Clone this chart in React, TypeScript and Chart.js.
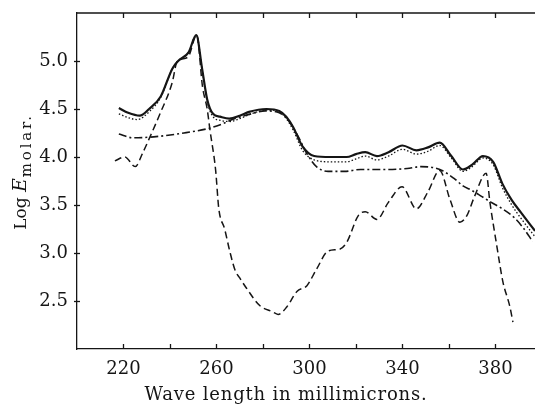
import React, { useEffect, useRef } from "react";
import { Chart, registerables } from "chart.js";

Chart.register(...registerables);

const xTickLabels = [220, 260, 300, 340, 380];
const yTickLabels = [2.5, 3.0, 3.5, 4.0, 4.5, 5.0];

const solidX = [218, 222, 227, 231, 236, 241, 243.5, 248, 251.3, 253.8, 256, 258.5, 261.5, 265.5, 270, 274, 281.5, 287, 290, 293, 297, 302, 309, 316, 320, 324, 329, 334, 340, 346, 351, 356, 361, 366, 370, 374.6, 379, 383, 387, 391, 397];
const solidY = [4.51, 4.46, 4.43, 4.5, 4.63, 4.92, 5.0, 5.09, 5.27, 4.92, 4.6, 4.45, 4.42, 4.4, 4.43, 4.47, 4.5, 4.48, 4.42, 4.31, 4.11, 4.01, 4.0, 4.0, 4.03, 4.05, 4.01, 4.05, 4.12, 4.07, 4.1, 4.15, 4.01, 3.87, 3.92, 4.01, 3.95, 3.72, 3.55, 3.42, 3.23];

const dottedX = [218, 222, 226, 231, 236, 241, 243.5, 248, 251.3, 253.8, 256, 258.5, 262, 266, 270, 275, 281.5, 287, 290, 293, 297, 302, 309, 316, 320, 324, 329, 334, 340, 346, 351, 356, 361, 366, 370, 374.6, 379, 383, 387, 391, 397];
const dottedY = [4.45, 4.41, 4.39, 4.47, 4.62, 4.92, 5.0, 5.09, 5.27, 4.92, 4.58, 4.42, 4.38, 4.37, 4.4, 4.45, 4.49, 4.47, 4.4, 4.28, 4.07, 3.97, 3.95, 3.95, 3.98, 4.01, 3.97, 4.01, 4.08, 4.03, 4.06, 4.12, 3.99, 3.85, 3.9, 3.99, 3.92, 3.68, 3.5, 3.36, 3.17];

const dashDotX = [218, 224, 233, 246, 257, 262, 268, 275, 281, 287, 291, 295, 299, 303, 308, 315, 322, 332, 342, 348, 353, 357, 362, 366, 370, 374, 378, 383, 388, 392, 396];
const dashDotY = [4.24, 4.2, 4.21, 4.25, 4.3, 4.34, 4.4, 4.45, 4.48, 4.46, 4.38, 4.22, 4.03, 3.9, 3.85, 3.85, 3.87, 3.87, 3.88, 3.9, 3.89, 3.86, 3.78, 3.7, 3.65, 3.59, 3.53, 3.46, 3.37, 3.26, 3.12];

const dashedX = [216.3, 220.6, 225, 228.4, 231.4, 235.7, 241, 243, 247.7, 251.5, 254, 256, 257.2, 259.6, 261, 263.5, 265.8, 268, 270, 273, 278.7, 283.9, 286.5, 290.3, 294.6, 298.9, 303, 308, 313, 316, 321, 324, 329, 334, 339.8, 346, 351, 356, 360.4, 364.7, 367.7, 371, 376, 377.6, 380.6, 383.2, 386.2, 387.5];
const dashedY = [3.96, 4.0, 3.9, 4.05, 4.21, 4.45, 4.78, 4.99, 5.04, 5.27, 4.73, 4.5, 4.28, 3.87, 3.46, 3.25, 3.01, 2.82, 2.74, 2.63, 2.45, 2.39, 2.36, 2.44, 2.6, 2.66, 2.83, 3.02, 3.04, 3.11, 3.39, 3.43, 3.35, 3.53, 3.69, 3.46, 3.64, 3.86, 3.56, 3.32, 3.39, 3.59, 3.83, 3.53, 3.07, 2.7, 2.44, 2.28];

const INK = "#151515";
const SERIF = "'DejaVu Serif', 'Liberation Serif', serif";

function pts(xs: number[], ys: number[]) {
  return xs.map((x, i) => ({ x, y: ys[i] }));
}

function fitText(ctx: CanvasRenderingContext2D, text: string, target: number) {
  (ctx as any).letterSpacing = "0px";
  const w = ctx.measureText(text).width;
  const sp = Math.max(0, (target - w) / Math.max(1, text.length));
  (ctx as any).letterSpacing = `${sp}px`;
  return w + sp * text.length;
}

const framePlugin = {
  id: "frame",
  afterDraw(chart: any) {
    const { ctx, chartArea, scales } = chart;
    const xs = scales.x;
    const ys = scales.y;
    ctx.save();
    ctx.strokeStyle = INK;
    ctx.lineWidth = 1.3;
    ctx.beginPath();
    ctx.moveTo(chartArea.left, chartArea.top);
    ctx.lineTo(chartArea.right, chartArea.top);
    ctx.stroke();
    for (let v = 220; v <= 380; v += 20) {
      const px = Math.round(xs.getPixelForValue(v)) + 0.5;
      ctx.beginPath();
      ctx.moveTo(px, chartArea.bottom);
      ctx.lineTo(px, chartArea.bottom - 5);
      ctx.moveTo(px, chartArea.top);
      ctx.lineTo(px, chartArea.top + 5);
      ctx.stroke();
    }
    for (const v of yTickLabels) {
      const py = Math.round(ys.getPixelForValue(v)) + 0.5;
      ctx.beginPath();
      ctx.moveTo(chartArea.left - 3, py);
      ctx.lineTo(chartArea.left + 3, py);
      ctx.stroke();
    }
    // x title
    ctx.fillStyle = INK;
    ctx.font = `18px ${SERIF}`;
    ctx.textAlign = "left";
    ctx.textBaseline = "alphabetic";
    const xt = "Wave length in millimicrons.";
    const xw = fitText(ctx, xt, 283);
    ctx.fillText(xt, 286 - xw / 2, 400);
    // y title rotated
    ctx.save();
    ctx.translate(26, 172);
    ctx.rotate(-Math.PI / 2);
    const f1 = `17px ${SERIF}`;
    const f2 = `italic 19px ${SERIF}`;
    const f3 = `15px ${SERIF}`;
    ctx.font = f1;
    (ctx as any).letterSpacing = "0px";
    const w1 = ctx.measureText("Log ").width;
    ctx.font = f2;
    const w2 = ctx.measureText("E").width;
    ctx.font = f3;
    const w3 = fitText(ctx, "molar.", 64);
    (ctx as any).letterSpacing = "0px";
    let sx = -(w1 + w2 + w3) / 2;
    ctx.font = f1;
    ctx.fillText("Log ", sx, 0);
    sx += w1;
    ctx.font = f2;
    ctx.fillText("E", sx, 0);
    sx += w2;
    ctx.font = f3;
    fitText(ctx, "molar.", 64);
    ctx.fillText("molar.", sx + 1, 5);
    ctx.restore();
    ctx.restore();
  },
};

export default function App() {
  const ref = useRef<HTMLCanvasElement | null>(null);
  useEffect(() => {
    document.body.style.margin = "0";
    const canvas = ref.current;
    if (!canvas) return;
    const base = {
      borderColor: INK,
      pointRadius: 0,
      fill: false,
      cubicInterpolationMode: "monotone" as const,
    };
    const chart = new Chart(canvas, {
      type: "line",
      data: {
        datasets: [
          { ...base, label: "solid", data: pts(solidX, solidY), borderWidth: 2.2 },
          { ...base, label: "dotted", data: pts(dottedX, dottedY), borderWidth: 1.3, borderDash: [1.5, 2] },
          { ...base, label: "dashdot", data: pts(dashDotX, dashDotY), borderWidth: 1.6, borderDash: [8, 3, 2, 3] },
          { ...base, label: "dashed", data: pts(dashedX, dashedY), borderWidth: 1.5, borderDash: [7, 4] },
        ],
      },
      options: {
        animation: false,
        responsive: false,
        devicePixelRatio: 1,
        layout: { padding: { top: 13, right: 0, left: 0, bottom: 0 } },
        plugins: { legend: { display: false }, tooltip: { enabled: false }, title: { display: false } },
        scales: {
          x: {
            type: "linear",
            min: 200,
            max: 397,
            grid: { display: false, drawTicks: false },
            border: { display: true, color: INK, width: 1.3 },
            ticks: {
              stepSize: 20,
              includeBounds: false,
              padding: 10,
              color: INK,
              font: { family: SERIF, size: 18 },
              maxRotation: 0,
              autoSkip: false,
              callback: (v: any) => (xTickLabels.includes(Number(v)) ? String(v) : null),
            },
            afterFit: (s: any) => {
              s.height = 56;
              s.paddingLeft = 0;
              s.paddingRight = 0;
            },
          },
          y: {
            type: "linear",
            min: 2,
            max: 5.5,
            grid: { display: false, drawTicks: false },
            border: { display: true, color: INK, width: 1.3 },
            ticks: {
              stepSize: 0.5,
              padding: 9,
              color: INK,
              font: { family: SERIF, size: 18 },
              autoSkip: false,
              callback: (v: any) => {
                const n = Number(v);
                return yTickLabels.some((t) => Math.abs(t - n) < 1e-6) ? n.toFixed(1) : null;
              },
            },
            afterFit: (s: any) => {
              s.width = 77;
              s.paddingTop = 0;
              s.paddingBottom = 0;
            },
          },
        },
      },
      plugins: [framePlugin],
    });
    return () => chart.destroy();
  }, []);
  return (
    <div style={{ width: 535, height: 405 }}>
      <canvas ref={ref} width={535} height={405} style={{ display: "block" }} />
    </div>
  );
}
